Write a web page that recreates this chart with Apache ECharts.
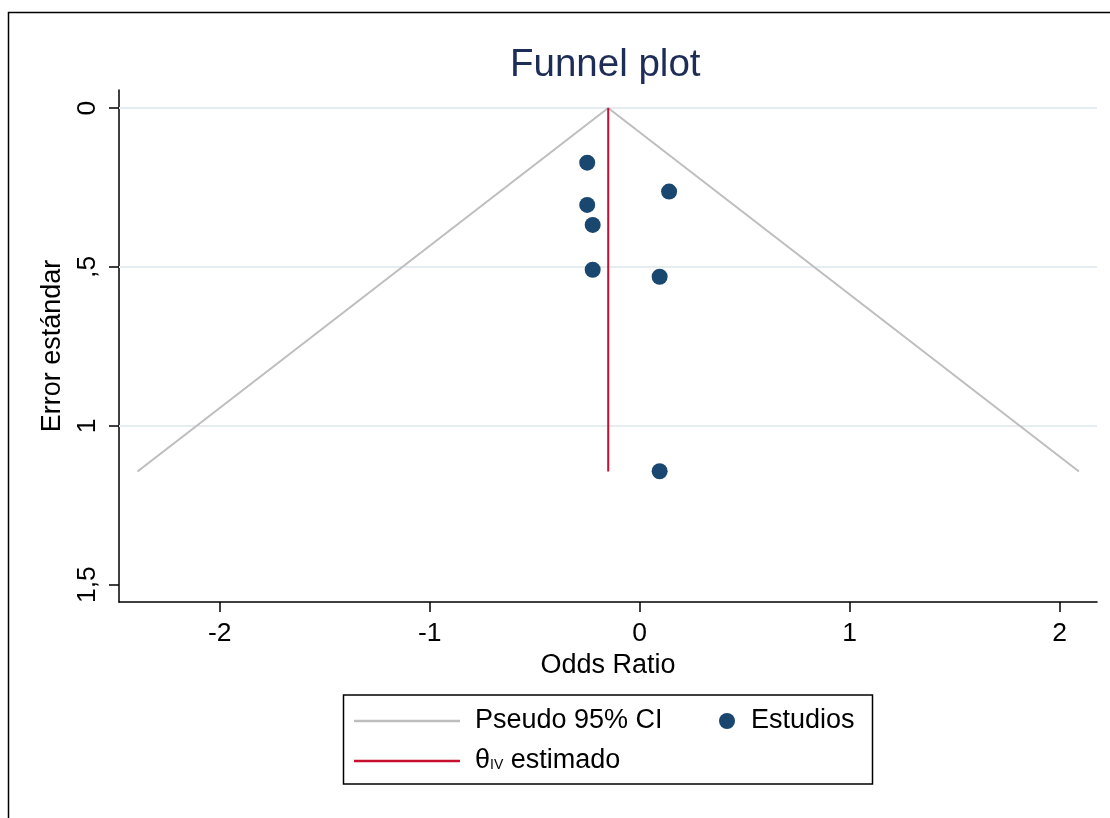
<!DOCTYPE html>
<html>
<head>
<meta charset="utf-8">
<script src="https://cdn.jsdelivr.net/npm/echarts@6/dist/echarts.min.js"></script>
<style>
html,body{margin:0;padding:0;background:#fff;}
#chart{width:1110px;height:818px;}
</style>
</head>
<body>
<div id="chart"></div>
<script>
// ---- data ----
const studyOR = [-0.250, 0.140, -0.250, -0.224, -0.224, 0.095, 0.095];
const studySE = [0.172, 0.263, 0.305, 0.368, 0.509, 0.531, 1.143];
const funnelX = [-2.392, -0.150, 2.092];
const funnelY = [1.144, 0, 1.144];
const estimateX = [-0.150, -0.150];
const estimateY = [0, 1.144];
const xTicks = [-2, -1, 0, 1, 2];
const yTicks = [0, 0.5, 1, 1.5];
const yTickLabels = ['0', ',5', '1', '1,5'];
const gridValues = [0, 0.5, 1];

const FONT = "'Liberation Sans', Arial, sans-serif";
const zip = (a, b) => a.map((v, i) => [v, b[i]]);

const chart = echarts.init(document.getElementById('chart'), null, {renderer: 'canvas'});
chart.setOption({
  animation: false,
  backgroundColor: '#fff',
  textStyle: {fontFamily: FONT},
  title: {
    text: 'Funnel plot',
    left: 510, top: 46, padding: 0,
    textStyle: {fontFamily: FONT, fontSize: 38.5, fontWeight: 'normal', color: '#1e2d58'}
  },
  grid: {left: 119, right: 13, top: 90, bottom: 216, containLabel: false},
  xAxis: {
    type: 'value', min: -2.48, max: 2.178,
    name: 'Odds Ratio', nameLocation: 'middle', nameGap: 49,
    nameTextStyle: {fontFamily: FONT, fontSize: 27, color: '#000'},
    axisLine: {onZero: false, lineStyle: {color: '#000', width: 1.5}},
    axisTick: {show: true, length: 10, lineStyle: {color: '#000', width: 1.5}, customValues: xTicks},
    axisLabel: {customValues: xTicks, margin: 18, fontFamily: FONT, fontSize: 26.5, color: '#000',
      formatter: v => String(v)},
    splitLine: {show: false}
  },
  yAxis: {
    type: 'value', inverse: true, min: -0.0567, max: 1.5545,
    name: 'Error estándar', nameLocation: 'middle', nameGap: 50, nameRotate: 90,
    nameTextStyle: {fontFamily: FONT, fontSize: 27, color: '#000'},
    axisLine: {onZero: false, lineStyle: {color: '#000', width: 1.5}},
    axisTick: {show: true, length: 10, lineStyle: {color: '#000', width: 1.5}, customValues: yTicks},
    axisLabel: {customValues: yTicks, rotate: 90, margin: 18, fontFamily: FONT, fontSize: 26.5, color: '#000',
      formatter: v => { const i = yTicks.findIndex(t => Math.abs(t - v) < 1e-9); return i >= 0 ? yTickLabels[i] : ''; }},
    splitLine: {show: false}
  },
  legend: [
    {data: [{name: 'Pseudo 95% CI', icon: 'rect'}], left: 354, top: 706, padding: 0, itemWidth: 106, itemHeight: 2.5,
     textStyle: {fontFamily: FONT, fontSize: 27, color: '#000', padding: [0, 0, 0, 10], lineHeight: 30}},
    {data: [{name: 'Estudios', icon: 'circle'}], left: 719, top: 706, padding: 0, itemWidth: 16, itemHeight: 16,
     textStyle: {fontFamily: FONT, fontSize: 27, color: '#000', padding: [0, 0, 0, 11], lineHeight: 30}},
    {data: [{name: 'θ estimado', icon: 'rect'}], left: 354, top: 746, padding: 0, itemWidth: 106, itemHeight: 2.5,
     formatter: () => '{t|θ}{s|IV}{t| estimado}',
     textStyle: {fontFamily: FONT, fontSize: 27, color: '#000', padding: [0, 0, 0, 10], lineHeight: 30,
       rich: {
         t: {fontFamily: FONT, fontSize: 27, color: '#000', lineHeight: 30},
         s: {fontFamily: FONT, fontSize: 14, color: '#000', verticalAlign: 'bottom', lineHeight: 14, padding: [0, 0, 4, 0]}
       }}}
  ],
  graphic: [
    {type: 'polyline', silent: true, shape: {points: [[8.5, 818], [8.5, 12.5], [1110, 12.5]]},
     style: {stroke: '#000', lineWidth: 1.5, fill: null}},
    {type: 'rect', silent: true, shape: {x: 343.5, y: 695, width: 529, height: 89},
     style: {stroke: '#000', lineWidth: 1.5, fill: null}}
  ],
  series: [
    {
      name: 'Pseudo 95% CI', type: 'line', data: zip(funnelX, funnelY),
      symbol: 'none', z: 3,
      lineStyle: {color: '#bebebe', width: 2},
      itemStyle: {color: '#bebebe'},
      markLine: {
        silent: true, symbol: 'none', z: 1,
        label: {show: false},
        lineStyle: {color: '#e6edf0', width: 2, type: 'solid'},
        data: gridValues.map(v => ({yAxis: v}))
      }
    },
    {
      name: 'Estudios', type: 'scatter', data: zip(studyOR, studySE),
      symbol: 'circle', symbolSize: 16, z: 5,
      itemStyle: {color: '#1a476f', opacity: 1}
    },
    {
      name: 'θ estimado', type: 'line', data: zip(estimateX, estimateY),
      symbol: 'none', z: 4,
      lineStyle: {color: '#c8102e', width: 2},
      itemStyle: {color: '#c8102e'}
    }
  ]
});
</script>
</body>
</html>
